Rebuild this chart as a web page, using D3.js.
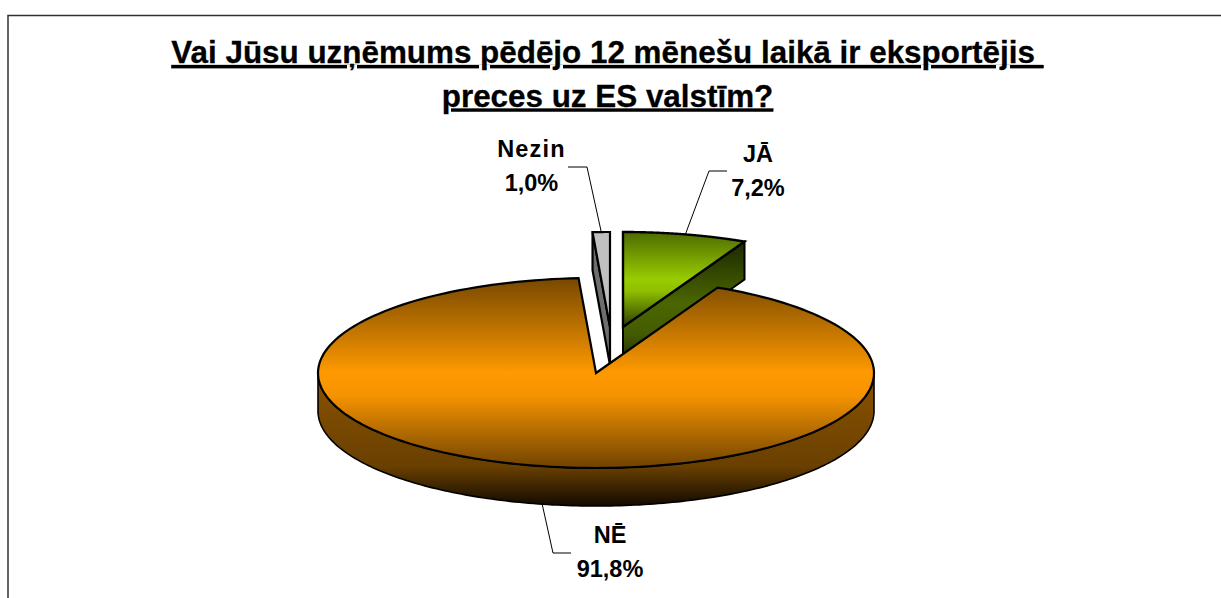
<!DOCTYPE html>
<html><head><meta charset="utf-8">
<script src="https://cdn.jsdelivr.net/npm/d3@7"></script>
<style>html,body{margin:0;background:#fff}svg{display:block}text{font-family:"Liberation Sans",Arial,sans-serif;font-weight:bold;fill:#000}</style>
</head><body><svg id="c" width="1221" height="598"></svg>
<script>
const categories = ["JĀ", "NĒ", "Nezin"];
const values = [7.2, 91.8, 1.0];
const valueLabels = ["7,2%", "91,8%", "1,0%"];
const titleLines = ["Vai Jūsu uzņēmums pēdējo 12 mēnešu laikā ir eksportējis ", "preces uz ES valstīm?"];

const W = 1221, H = 598;
const cx = 596, cy = 373, rx = 278, ry = 95, depth = 38;
const explode = [[27, -46], [0, 0], [14, -46]];
const labelPos = [{x: 758, y: 162, kx: 727, ky: 171, lx: 709},
                  {x: 610, y: 543, kx: 571, ky: 553, lx: 553},
                  {x: 531.5, y: 157, kx: 568, ky: 167, lx: 587}];
const svg = d3.select("#c");
const defs = svg.append("defs");

function grad(id, y1, y2, stops) {
  const g = defs.append("linearGradient").attr("id", id).attr("gradientUnits", "userSpaceOnUse")
    .attr("x1", 0).attr("x2", 0).attr("y1", y1).attr("y2", y2);
  stops.forEach(s => g.append("stop").attr("offset", s[0]).attr("stop-color", s[1]));
}
grad("orTop", cy - ry, cy + ry, [[0, "#774800"], [0.5, "#ff9900"], [0.62, "#f59300"], [1, "#704300"]]);
grad("orSide", cy, cy + ry + depth, [[0, "#8a5300"], [0.7, "#6a4000"], [1, "#120a00"]]);
grad("grTop", cy - 46 - ry, cy - 46, [[0, "#4d6b00"], [0.5, "#99cc00"], [0.62, "#8fbf00"], [1, "#2c3d00"]]);
grad("grSide", cy - 46 - ry + 9, cy - 46 + depth, [[0, "#1c2800"], [0.5, "#4b6600"], [0.75, "#445c00"], [1, "#1c2800"]]);

const pie = d3.pie().sort(null).value(d => d);
const arcs = pie(values);
const rot = a => [Math.sin(a) * rx, -Math.cos(a) * ry];
const line = d3.line();
const steps = (a, b) => d3.range(0, 181).map(i => a + (b - a) * i / 180);

function topPath(d, off) {
  const pts = steps(d.startAngle, d.endAngle).map(a => { const p = rot(a); return [cx + off[0] + p[0], cy + off[1] + p[1]]; });
  return line([[cx + off[0], cy + off[1]], ...pts]) + "Z";
}
function wallPath(a, off) {
  const p = rot(a), x = cx + off[0], y = cy + off[1];
  return line([[x, y], [x + p[0], y + p[1]], [x + p[0], y + p[1] + depth], [x, y + depth]]) + "Z";
}
function rimPath(a, b, off) {
  const f = steps(a, b).map(t => { const p = rot(t); return [cx + off[0] + p[0], cy + off[1] + p[1]]; });
  const back = f.slice().reverse().map(p => [p[0], p[1] + depth]);
  return line([...f, ...back]) + "Z";
}

// frame: the right and bottom edges lie outside the picture
svg.append("rect").attr("x", 8).attr("y", 15.5).attr("width", W + 20).attr("height", H + 20)
  .attr("fill", "#fff").attr("stroke", "#303030").attr("stroke-width", 1.5);

// title
svg.selectAll("text.title").data(titleLines).join("text").attr("class", "title")
  .attr("x", 607.5).attr("y", (d, i) => 63 + i * 43.5).attr("text-anchor", "middle")
  .attr("font-size", 31.4).attr("text-decoration", "underline")
  .style("white-space", "pre")
  .style("text-decoration-thickness", "3.5px")
  .style("text-decoration-skip-ink", "none")
  .style("stroke", "#000").style("stroke-width", 0.3)
  .text(d => d);

const blk = {stroke: "#000", "stroke-width": 2.2, "stroke-linejoin": "miter"};
function draw(d, fill, extra) {
  const s = svg.append("path").attr("d", d).attr("fill", fill);
  Object.entries(Object.assign({}, blk, extra || {})).forEach(([k, v]) => s.attr(k, v));
  return s;
}

// Nezin slice
const nz = arcs[2], nzOff = explode[2];
draw(wallPath(nz.startAngle, nzOff), "#6e6e6e");
draw(topPath(nz, nzOff), "#c0c0c0");

// JA slice
const ja = arcs[0], jaOff = explode[0];
draw(wallPath(ja.endAngle, jaOff), "url(#grSide)", {"stroke-width": 2});
draw(topPath(ja, jaOff), "url(#grTop)", {"stroke-width": 2.4});

// NE slice
const ne = arcs[1], neOff = explode[1];
const halo = rimPath(Math.PI / 2, 3 * Math.PI / 2, [0, 1.5]);
svg.append("path").attr("d", halo).attr("fill", "none").attr("stroke", "#fff").attr("stroke-width", 1.5);
draw(rimPath(Math.PI / 2, 3 * Math.PI / 2, neOff), "url(#orSide)", {"stroke-width": 1.6});
draw(topPath(ne, neOff), "url(#orTop)", {"stroke-width": 2.2});

// leader lines and labels
arcs.forEach((d, i) => {
  const mid = (d.startAngle + d.endAngle) / 2, p = rot(mid), off = explode[i], lp = labelPos[i];
  const front = Math.cos(mid) < 0 ? depth : 0;
  const a = [cx + off[0] + p[0], cy + off[1] + p[1] + front];
  svg.append("path").attr("fill", "none").attr("stroke", "#000").attr("stroke-width", 1)
    .attr("d", line([a, [lp.lx, lp.ky], [lp.kx, lp.ky]]));
  const t = svg.append("text").attr("text-anchor", "middle").attr("font-size", 23.5);
  t.append("tspan").attr("x", lp.x).attr("y", lp.y).attr("letter-spacing", categories[i] === "Nezin" ? 1.2 : 0).text(categories[i]);
  t.append("tspan").attr("x", lp.x).attr("y", lp.y + 34).text(valueLabels[i]);
});
</script></body></html>
